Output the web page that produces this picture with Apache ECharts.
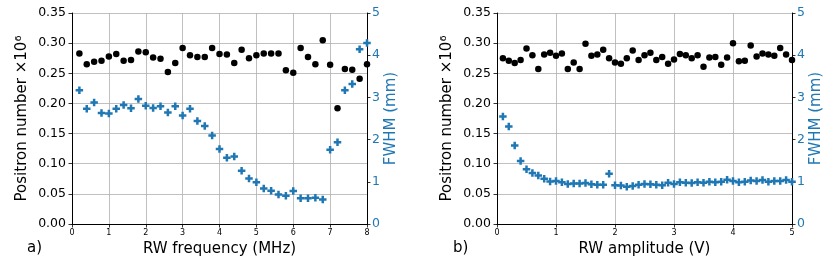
<!DOCTYPE html>
<html><head><meta charset="utf-8">
<script src="https://cdn.jsdelivr.net/npm/echarts@6/dist/echarts.min.js"></script>
<style>html,body{margin:0;padding:0;background:#fff}#c{width:830px;height:270px}</style>
</head><body><div id="c"></div>
<script>
// Panel a) RW frequency scan
const freqMHz = [0.2,0.4,0.6,0.8,1.0,1.2,1.4,1.6,1.8,2.0,2.2,2.4,2.6,2.8,3.0,3.2,3.4,3.6,3.8,4.0,
                 4.2,4.4,4.6,4.8,5.0,5.2,5.4,5.6,5.8,6.0,6.2,6.4,6.6,6.8,7.0,7.2,7.4,7.6,7.8,8.0];
const positronA = [0.283,0.265,0.269,0.271,0.278,0.282,0.271,0.272,0.286,0.285,0.276,0.274,0.252,0.267,0.292,0.280,0.277,0.277,0.292,0.282,
                   0.281,0.267,0.289,0.275,0.280,0.283,0.283,0.283,0.255,0.251,0.292,0.277,0.265,0.305,0.264,0.192,0.257,0.256,0.241,0.265];
const fwhmA = [3.17,2.73,2.88,2.63,2.62,2.73,2.82,2.74,2.96,2.80,2.75,2.79,2.64,2.79,2.57,2.73,2.44,2.32,2.10,1.78,
               1.57,1.60,1.26,1.08,0.99,0.84,0.79,0.70,0.67,0.78,0.61,0.61,0.62,0.58,1.76,1.94,3.17,3.32,4.14,4.29];
// Panel b) RW amplitude scan
const ampV = [0.1,0.2,0.3,0.4,0.5,0.6,0.7,0.8,0.9,1.0,1.1,1.2,1.3,1.4,1.5,1.6,1.7,1.8,1.9,2.0,
              2.1,2.2,2.3,2.4,2.5,2.6,2.7,2.8,2.9,3.0,3.1,3.2,3.3,3.4,3.5,3.6,3.7,3.8,3.9,4.0,
              4.1,4.2,4.3,4.4,4.5,4.6,4.7,4.8,4.9,5.0];
const positronB = [0.275,0.271,0.267,0.272,0.291,0.280,0.257,0.281,0.284,0.279,0.283,0.257,0.268,0.257,0.299,0.279,0.281,0.289,0.275,0.268,
                   0.266,0.275,0.288,0.272,0.280,0.284,0.272,0.277,0.266,0.273,0.282,0.280,0.275,0.280,0.261,0.276,0.277,0.264,0.276,0.300,
                   0.270,0.271,0.296,0.278,0.283,0.281,0.279,0.292,0.281,0.272];
const fwhmB = [2.55,2.31,1.86,1.49,1.30,1.21,1.15,1.07,1.01,1.02,0.99,0.95,0.96,0.96,0.97,0.94,0.93,0.93,1.19,0.92,
               0.91,0.88,0.90,0.93,0.95,0.94,0.93,0.92,0.98,0.95,0.99,0.98,0.97,0.99,0.98,1.00,0.99,1.00,1.05,1.02,
               0.99,1.00,1.03,1.02,1.04,1.00,1.02,1.02,1.04,1.00];
const leftTicks = {min:0, max:0.35, interval:0.05};
const rightTicks = {min:0, max:5, interval:1};
const xRangeA = {min:0, max:8, interval:1};
const xRangeB = {min:0, max:5, interval:1};
const yName = 'Positron number ×10⁶';
const y2Name = 'FWHM (mm)';
const xNameA = 'RW frequency (MHz)';
const xNameB = 'RW amplitude (V)';

const BLUE = '#1f77b4';
const FONT = 'DejaVu Sans';
const plusPath = 'path://M2,0H4V2H6V4H4V6H2V4H0V2H2Z';
const pairs = (xs, ys) => xs.map((x, i) => [x, ys[i]]);

function xAxis(idx, r, name) {
  return {
    type: 'value', gridIndex: idx, min: r.min, max: r.max, interval: r.interval,
    name: name, nameLocation: 'middle', nameGap: 17,
    nameTextStyle: {fontFamily: FONT, fontSize: 15, color: '#000'},
    axisLine: {show: true, onZero: false, lineStyle: {color: '#000', width: 1}},
    axisTick: {show: true, length: 3.5, lineStyle: {color: '#000', width: 0.8}},
    axisLabel: {fontFamily: FONT, fontSize: 8, color: '#000', margin: 5},
    splitLine: {show: true, lineStyle: {color: '#b0b0b0', width: 0.8}}
  };
}
function yLeft(idx) {
  return {
    type: 'value', gridIndex: idx, position: 'left',
    min: leftTicks.min, max: leftTicks.max, interval: leftTicks.interval,
    name: yName, nameLocation: 'middle', nameGap: 42,
    nameTextStyle: {fontFamily: FONT, fontSize: 15, color: '#000'},
    axisLine: {show: true, onZero: false, lineStyle: {color: '#000', width: 1}},
    axisTick: {show: true, length: 3.5, lineStyle: {color: '#000', width: 0.8}},
    axisLabel: {fontFamily: FONT, fontSize: 12.5, color: '#000', margin: 6,
                formatter: v => v.toFixed(2)},
    splitLine: {show: true, lineStyle: {color: '#b0b0b0', width: 0.8}}
  };
}
function yRight(idx) {
  return {
    type: 'value', gridIndex: idx, position: 'right',
    min: rightTicks.min, max: rightTicks.max, interval: rightTicks.interval,
    name: y2Name, nameLocation: 'middle', nameGap: 16,
    nameTextStyle: {fontFamily: FONT, fontSize: 15, color: BLUE},
    axisLine: {show: true, onZero: false, lineStyle: {color: '#000', width: 1}},
    axisTick: {show: true, length: 3.5, lineStyle: {color: '#000', width: 0.8}},
    axisLabel: {fontFamily: FONT, fontSize: 12.5, color: BLUE, margin: 5},
    splitLine: {show: false}
  };
}

const chart = echarts.init(document.getElementById('c'), null, {renderer: 'canvas'});
chart.setOption({
  animation: false,
  backgroundColor: '#fff',
  grid: [
    {left: 72, top: 13, width: 295, height: 211},
    {left: 497, top: 13, width: 295, height: 211}
  ],
  xAxis: [xAxis(0, xRangeA, xNameA), xAxis(1, xRangeB, xNameB)],
  yAxis: [yLeft(0), yRight(0), yLeft(1), yRight(1)],
  graphic: [
    {type: 'text', left: 27, top: 241, style: {text: 'a)', font: '15px "DejaVu Sans"', fill: '#000'}},
    {type: 'text', left: 453, top: 241, style: {text: 'b)', font: '15px "DejaVu Sans"', fill: '#000'}}
  ],
  series: [
    {type: 'scatter', xAxisIndex: 0, yAxisIndex: 0, data: pairs(freqMHz, positronA),
     symbol: 'circle', symbolSize: 6.5, itemStyle: {color: '#000', opacity: 1}, z: 2},
    {type: 'scatter', xAxisIndex: 0, yAxisIndex: 1, data: pairs(freqMHz, fwhmA),
     symbol: plusPath, symbolSize: 7.5, itemStyle: {color: BLUE, opacity: 1}, z: 3},
    {type: 'scatter', xAxisIndex: 1, yAxisIndex: 2, data: pairs(ampV, positronB),
     symbol: 'circle', symbolSize: 6.5, itemStyle: {color: '#000', opacity: 1}, z: 2},
    {type: 'scatter', xAxisIndex: 1, yAxisIndex: 3, data: pairs(ampV, fwhmB),
     symbol: plusPath, symbolSize: 7.5, itemStyle: {color: BLUE, opacity: 1}, z: 3}
  ]
});
</script></body></html>
